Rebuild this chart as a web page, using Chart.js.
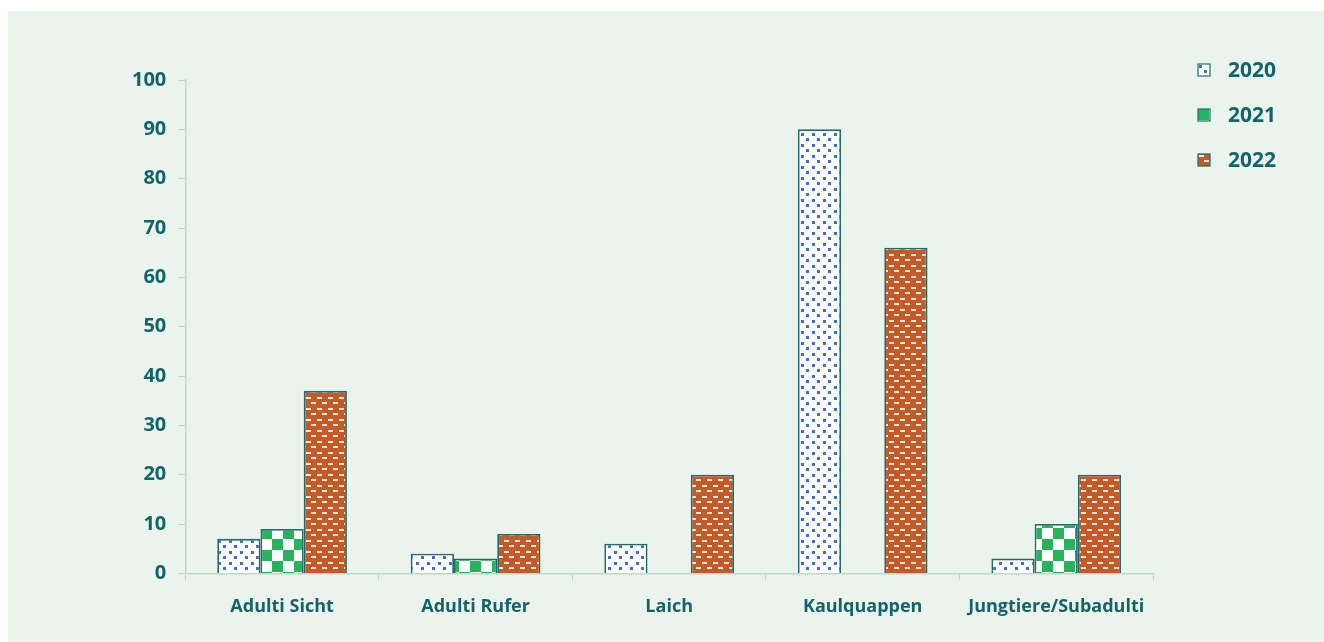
<!DOCTYPE html>
<html lang="de">
<head>
<meta charset="utf-8">
<title>Nachweise 2020–2022</title>
<script src="https://cdn.jsdelivr.net/npm/chart.js@4"></script>
<style>
    html, body { margin:0; padding:0; background:#fff; }
    .panel {
        position:absolute; left:8px; top:11px;
        width:1316px; height:631px;
        background:#eaf4ec;
    }
    canvas { display:block; }
</style>
</head>
<body>
<div class="panel">
    <canvas id="chart" width="1316" height="631"></canvas>
</div>
<script>
// ── Data ───────────────────────────────────────
const categories = ['Adulti Sicht', 'Adulti Rufer', 'Laich', 'Kaulquappen', 'Jungtiere/Subadulti'];
const years = ['2020', '2021', '2022'];
const values2020 = [7, 4, 6, 90, 3];
const values2021 = [9, 3, null, null, 10];
const values2022 = [37, 8, 20, 66, 20];

const TEAL = '#13646a';
const AXIS = '#b9dcc7';
const BAR_EDGE = '#1f6b6d';
const FONT = "'Open Sans', sans-serif";

// ── Fill patterns ──────────────────────────────
function makeTile(w, h, draw) {
    const c = document.createElement('canvas');
    c.width = w; c.height = h;
    draw(c.getContext('2d'));
    return document.getElementById('chart').getContext('2d').createPattern(c, 'repeat');
}

// white with small blue dots, rows offset
const dotFill = makeTile(11, 11, g => {
    g.fillStyle = '#ffffff'; g.fillRect(0, 0, 11, 11);
    g.fillStyle = '#3f6cc6';
    g.fillRect(1, 1, 3, 3);
    g.fillRect(6, 6, 3, 3);
});

// green / white checkerboard
const checkFill = makeTile(22, 22, g => {
    g.fillStyle = '#ffffff'; g.fillRect(0, 0, 22, 22);
    g.fillStyle = '#27b35b';
    g.fillRect(0, 0, 11, 11);
    g.fillRect(11, 11, 11, 11);
});

// orange with white brick dashes
const brickFill = makeTile(11, 11, g => {
    g.fillStyle = '#c45a27'; g.fillRect(0, 0, 11, 11);
    g.fillStyle = '#fbe9de';
    g.fillRect(1, 1, 5, 2);
    g.fillRect(6, 6, 5, 2);
});

// ── Legend (top right, one entry per year) ─────
const yearLegend = {
    id: 'yearLegend',
    afterDraw(chart) {
        const g = chart.ctx;
        chart.data.datasets.forEach((ds, i) => {
            const cy = 59 + i * 45;
            // swatch: pattern anchored at the swatch corner
            g.save();
            g.translate(1190, cy - 6);
            g.fillStyle = ds.backgroundColor;
            g.fillRect(0, 0, 12, 12);
            g.strokeStyle = BAR_EDGE;
            g.lineWidth = 1.2;
            g.strokeRect(0, 0, 12, 12);
            g.restore();

            g.save();
            g.font = `700 21px ${FONT}`;
            g.textBaseline = 'middle';
            g.fillStyle = TEAL;
            g.fillText(ds.label, 1220, cy + 1);
            g.restore();
        });
    }
};

// ── Chart ──────────────────────────────────────
const ctx = document.getElementById('chart');
new Chart(ctx, {
    type: 'bar',
    data: {
        labels: categories,
        datasets: [
            { label: years[0], data: values2020, backgroundColor: dotFill },
            { label: years[1], data: values2021, backgroundColor: checkFill },
            { label: years[2], data: values2022, backgroundColor: brickFill }
        ].map(d => Object.assign(d, {
            borderColor: BAR_EDGE, borderWidth: 1.8, borderSkipped: 'bottom',
            barPercentage: 1, categoryPercentage: 0.67
        }))
    },
    options: {
        responsive: false,
        animation: false,
        layout: { padding: { top: 69, left: 112, right: 171, bottom: 8 } },
        plugins: {
            tooltip: { enabled: false },
            legend: { display: false }
        },
        scales: {
            x: {
                grid: { drawOnChartArea: false, color: AXIS, tickLength: 7, offset: true },
                border: { color: AXIS, width: 1.5 },
                ticks: { color: TEAL, padding: 16, font: { family: FONT, size: 18, weight: '700' } }
            },
            y: {
                min: 0, max: 100,
                grid: { drawOnChartArea: false, color: AXIS, tickLength: 7 },
                border: { color: AXIS, width: 1.5 },
                ticks: { stepSize: 10, color: TEAL, padding: 12, font: { family: FONT, size: 20, weight: '700' } }
            }
        }
    },
    plugins: [yearLegend]
});
</script>
</body>
</html>
